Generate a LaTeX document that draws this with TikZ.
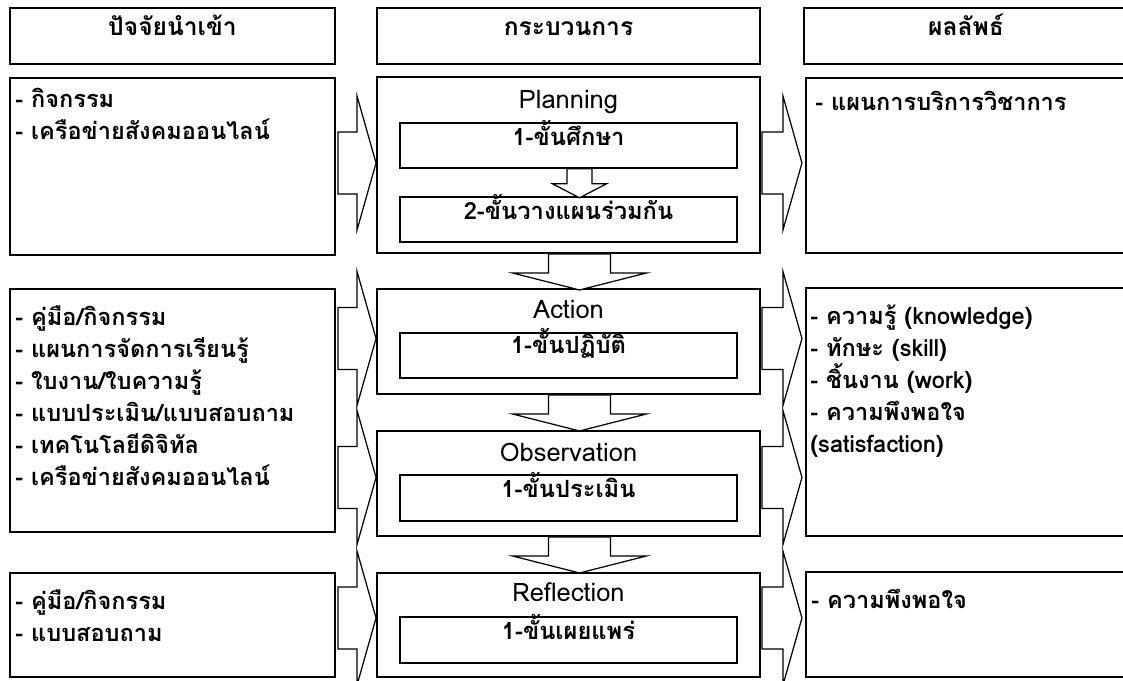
\documentclass[tikz,border=0pt]{standalone}
\usepackage{fontspec}
\setmainfont[Script=Thai]{Loma}
\usetikzlibrary{fit,calc}
\newcommand{\tsize}{\fontsize{13.4}{18.2}\selectfont}
\newcommand{\topline}{\rule{0pt}{15pt}}
\tikzset{
  box/.style={draw=black,line width=1.1pt,inner sep=0pt},
  ibox/.style={draw=black,line width=0.9pt,inner sep=0pt,text height=15pt,text depth=3pt,
               font=\fontsize{13.5}{18}\selectfont\bfseries},
  head/.style={text height=15pt,text depth=3pt,font=\fontsize{14}{18}\selectfont\bfseries},
  items/.style={align=left,anchor=north west,inner sep=0pt,font=\tsize\bfseries},
  ttl/.style={anchor=base,inner sep=0pt,font=\fontsize{14.5}{18}\selectfont},
  blk/.style={draw=black,line width=0.7pt,fill=white,line join=miter},
  rblock/.pic={\path[blk] (0,-31) -- (#1-19,-31) -- (#1-19,-67) -- (#1,0)
                -- (#1-19,67) -- (#1-19,31) -- (0,31) -- cycle;},
  bdown/.pic={\path[blk] (-31,0) -- (-31,#1-17) -- (-67,#1-17) -- (0,#1)
                -- (67,#1-17) -- (31,#1-17) -- (31,0) -- cycle;},
  sdown/.pic={\path[blk] (-12.5,0) -- (-12.5,#1-14) -- (-27,#1-14) -- (0,#1)
                -- (27,#1-14) -- (12.5,#1-14) -- (12.5,0) -- cycle;},
}
\begin{document}
\begin{tikzpicture}[x=0.02cm,y=-0.02cm]
  \useasboundingbox (0,0) rectangle (1123,680);

  % column heads
  \node[box,head,fit={(10,8) (335,64)}] (hin) {ปัจจัยนำเข้า};
  \node[box,head,fit={(377,8) (760,64)}] (hproc) {กระบวนการ};
  \node[box,head,fit={(804,8) (1128,64)}] (hout) {ผลลัพธ์};

  % inputs
  \node[box,fit={(10,78) (335,255)}] (in1) {};
  \node[items] at ($(in1.north west)+(6,4)$)
    {\topline- กิจกรรม\\- เครือข่ายสังคมออนไลน์};
  \node[box,fit={(10,289) (335,532)}] (in2) {};
  \node[items] at ($(in2.north west)+(6,11)$)
    {\topline- คู่มือ/กิจกรรม\\- แผนการจัดการเรียนรู้\\- ใบงาน/ใบความรู้\\%
     - แบบประเมิน/แบบสอบถาม\\- เทคโนโลยีดิจิทัล\\- เครือข่ายสังคมออนไลน์};
  \node[box,fit={(10,573) (335,677)}] (in3) {};
  \node[items] at ($(in3.north west)+(6,11)$)
    {\topline- คู่มือ/กิจกรรม\\- แบบสอบถาม};

  % process
  \node[box,fit={(377,77) (760,253)}] (plan) {};
  \node[ttl] at ($(plan.north)+(0,32)$) {Planning};
  \node[ibox,fit={(400,123) (737,168)}] (plan1) {1-ขั้นศึกษา};
  \node[ibox,fit={(400,197) (737,242)}] (plan2) {2-ขั้นวางแผนร่วมกัน};
  \pic at ($(plan1.south)+(11,0)$) {sdown=29};

  \node[box,fit={(377,289) (760,394)}] (act) {};
  \node[ttl] at ($(act.north)+(0,30)$) {Action};
  \node[ibox,fit={(400,333) (737,378)}] (act1) {1-ขั้นปฏิบัติ};

  \node[box,fit={(377,431) (760,536)}] (obs) {};
  \node[ttl] at ($(obs.north)+(0,31)$) {Observation};
  \node[ibox,fit={(400,475) (737,521)}] (obs1) {1-ขั้นประเมิน};

  \node[box,fit={(377,573) (760,677)}] (refl) {};
  \node[ttl] at ($(refl.north)+(0,29)$) {Reflection};
  \node[ibox,fit={(400,617) (737,663)}] (refl1) {1-ขั้นเผยแพร่};

  \pic at ($(plan.south)+(11,0)$) {bdown=36};
  \pic at ($(act.south)+(11,0)$) {bdown=36};
  \pic at ($(obs.south)+(11,0)$) {bdown=36};

  % outputs
  \node[box,fit={(806,78) (1128,253)}] (out1) {};
  \node[items] at ($(out1.north west)+(10,7)$) {\topline- แผนการบริการวิชาการ};
  \node[box,fit={(806,288) (1128,536)}] (out2) {};
  \node[items] at ($(out2.north west)+(5,11)$)
    {\topline- ความรู้ (knowledge)\\- ทักษะ (skill)\\- ชิ้นงาน (work)\\%
     - ความพึงพอใจ\\(satisfaction)};
  \node[box,fit={(806,572) (1128,677)}] (out3) {};
  \node[items] at ($(out3.north west)+(6,11)$) {\topline- ความพึงพอใจ};

  % block arrows in -> process -> out
  \pic at ($(plan.west)+(-38,-2)$) {rblock=38};
  \pic at ($(act.west)+(-38,-3)$) {rblock=38};
  \pic at ($(obs.west)+(-38,-6)$) {rblock=38};
  \pic at ($(refl.west)+(-38,-7)$) {rblock=38};
  \pic at ($(plan.east)+(1,-2)$) {rblock=40};
  \pic at ($(act.east)+(1,-3)$) {rblock=40};
  \pic at ($(obs.east)+(1,-6)$) {rblock=40};
  \pic at ($(refl.east)+(1,-7)$) {rblock=40};
\end{tikzpicture}
\end{document}
